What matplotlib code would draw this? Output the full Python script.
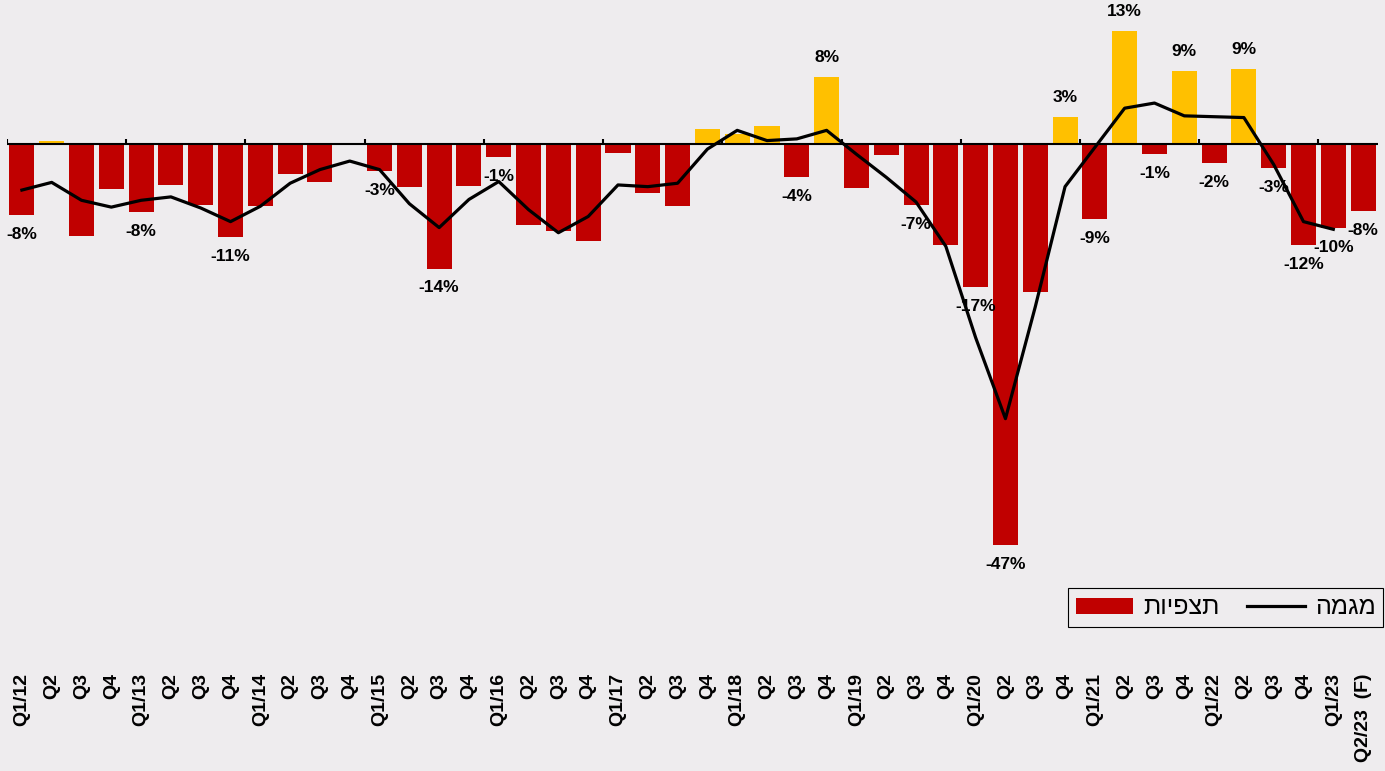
import numpy as np
import matplotlib
matplotlib.use('Agg')
import matplotlib.pyplot as plt
from matplotlib.patches import Patch
from matplotlib.lines import Line2D

plt.rcParams['font.family'] = ['Liberation Sans', 'DejaVu Sans']

# רבעונים
quarters = ['Q1/12', 'Q2', 'Q3', 'Q4',
            'Q1/13', 'Q2', 'Q3', 'Q4',
            'Q1/14', 'Q2', 'Q3', 'Q4',
            'Q1/15', 'Q2', 'Q3', 'Q4',
            'Q1/16', 'Q2', 'Q3', 'Q4',
            'Q1/17', 'Q2', 'Q3', 'Q4',
            'Q1/18', 'Q2', 'Q3', 'Q4',
            'Q1/19', 'Q2', 'Q3', 'Q4',
            'Q1/20', 'Q2', 'Q3', 'Q4',
            'Q1/21', 'Q2', 'Q3', 'Q4',
            'Q1/22', 'Q2', 'Q3', 'Q4',
            'Q1/23', 'Q2/23  (F)']

# תצפיות (%)
observed = [-8.3, 0.3, -10.8, -5.3, -8.0, -4.8, -7.1, -10.9, -7.3, -3.5,
            -4.4, 0.0, -3.2, -5.0, -14.6, -4.9, -1.5, -9.5, -10.2, -11.4,
            -1.1, -5.8, -7.3, 1.8, 1.2, 2.1, -3.9, 7.9, -5.2, -1.3,
            -7.1, -11.8, -16.8, -47.0, -17.4, 3.2, -8.8, 13.2, -1.2, 8.6,
            -2.2, 8.8, -2.8, -11.8, -9.8, -7.9]

# מגמה (%), עד Q1/23
trend = [-5.4, -4.5, -6.6, -7.4, -6.6, -6.2, -7.5, -9.1, -7.3, -4.6,
         -3.0, -2.0, -3.0, -7.0, -9.8, -6.5, -4.4, -7.7, -10.4, -8.5,
         -4.8, -5.0, -4.6, -0.6, 1.6, 0.4, 0.6, 1.6, -1.2, -3.9,
         -6.8, -12.0, -22.7, -32.2, -19.1, -5.0, -0.4, 4.2, 4.8, 3.3,
         3.2, 3.1, -2.4, -9.1, -10.0]

# תוויות ערכים שמופיעות בגרף
value_labels = {0: '-8%', 4: '-8%', 7: '-11%', 12: '-3%', 14: '-14%', 16: '-1%',
                26: '-4%', 27: '8%', 30: '-7%', 32: '-17%', 33: '-47%', 35: '3%',
                36: '-9%', 37: '13%', 38: '-1%', 39: '9%', 40: '-2%', 41: '9%',
                42: '-3%', 43: '-12%', 44: '-10%', 45: '-8%'}

bg = '#EEECEE'
red = '#C00000'
yellow = '#FFC000'

fig = plt.figure(figsize=(13.85, 7.71), dpi=100, facecolor=bg)
ax = fig.add_axes([7 / 1385, 1 - 665 / 771, 1371 / 1385, 665 / 771])
ax.set_facecolor(bg)

x = np.arange(len(quarters))
colors = [yellow if v > 0 else red for v in observed]
ax.bar(x, observed, width=0.84, color=colors, zorder=2)
ax.plot(x[:len(trend)], trend, color='black', linewidth=2.3, zorder=3)

# ציר האפס וסימוני שנים
ax.axhline(0, color='black', linewidth=1.5, zorder=4)
ax.vlines(np.arange(-0.5, len(quarters), 4), 0, 0.6, color='black', linewidth=1.5, zorder=4)

for i, txt in value_labels.items():
    v = observed[i]
    off = 14 if v > 0 else -14
    ax.annotate(txt, (x[i], v), xytext=(0, off), textcoords='offset points',
                ha='center', va='center', fontsize=12.5, fontweight='bold', zorder=5)

ax.set_xlim(-0.5, len(quarters) - 0.5)
ax.set_ylim(-(665 - 144) / 8.53, 144 / 8.53)
ax.set_xticks(x)
ax.set_xticklabels(quarters, rotation=90, fontsize=14, fontweight='bold',
                   va='top', ha='center')
ax.tick_params(axis='x', length=0, pad=6)
ax.set_yticks([])
for s in ax.spines.values():
    s.set_visible(False)

handles = [Patch(facecolor=red), Line2D([0], [0], color='black', linewidth=2.3)]
names = ['תצפיות'[::-1], 'מגמה'[::-1]]
leg = fig.legend(handles, names, loc='upper right',
                 bbox_to_anchor=(1383 / 1385, 1 - 588 / 771), borderaxespad=0,
                 ncol=2, fontsize=18, frameon=True, fancybox=False, edgecolor='black',
                 facecolor=bg, framealpha=1, handlelength=2.3, handleheight=0.6,
                 columnspacing=1.1, borderpad=0.3, handletextpad=0.4)
leg.get_frame().set_linewidth(0.8)

fig.savefig('out.png', dpi=100, facecolor=bg)
